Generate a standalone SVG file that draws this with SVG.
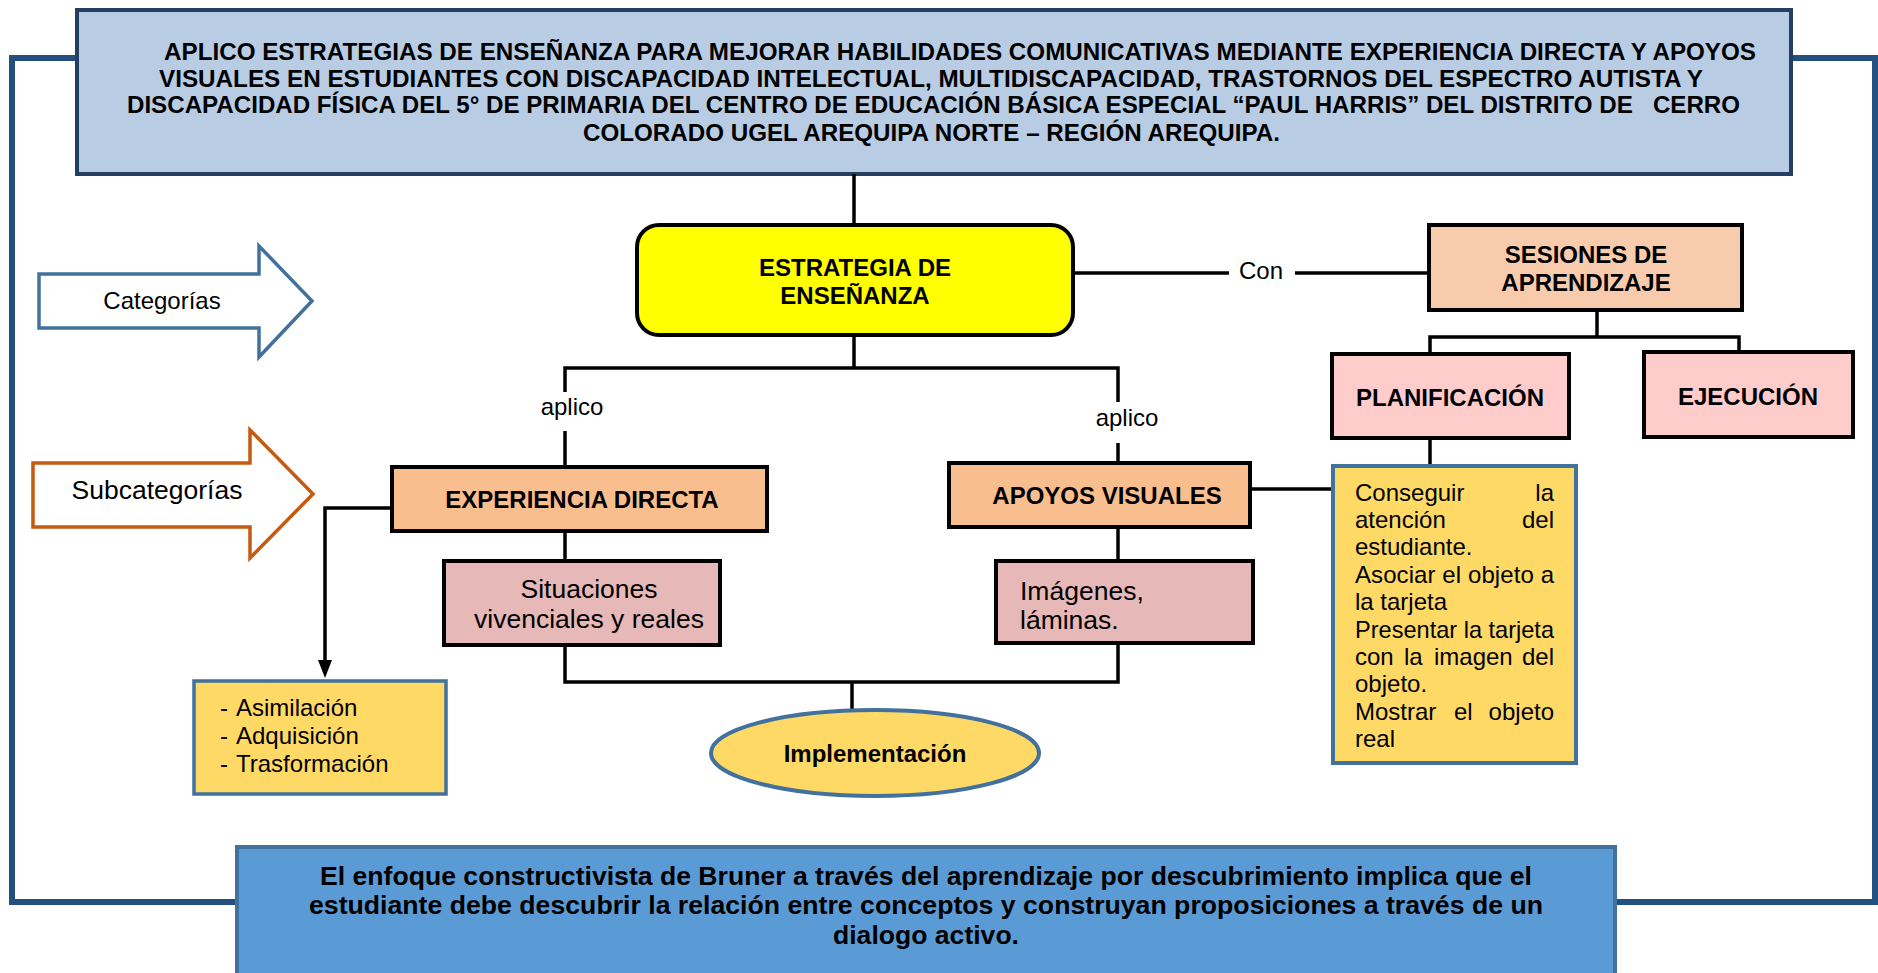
<svg xmlns="http://www.w3.org/2000/svg" width="1878" height="973" viewBox="0 0 1878 973">
<style>
text{font-family:"Liberation Sans",Arial,sans-serif;fill:#000}
.b{font-weight:bold}
.r24{font-size:24px}
.r26{font-size:26.5px}
.c{text-anchor:middle}
.e{text-anchor:end}
.blk{stroke:#000;stroke-width:4}
.ln{stroke:#000;stroke-width:3.5;fill:none}
</style>
<rect id="frame" x="12" y="58" width="1863" height="844" fill="none" stroke="#23507f" stroke-width="6"/>
<g id="title">
<rect x="77" y="10" width="1714" height="164" fill="#b8cce4" stroke="#243f60" stroke-width="4"/>
<text class="b r24" x="164" y="60" textLength="1592" lengthAdjust="spacingAndGlyphs">APLICO ESTRATEGIAS DE ENSEÑANZA PARA MEJORAR HABILIDADES COMUNICATIVAS MEDIANTE EXPERIENCIA DIRECTA Y APOYOS</text>
<text class="b r24" x="159" y="87" textLength="1544" lengthAdjust="spacingAndGlyphs">VISUALES EN ESTUDIANTES CON DISCAPACIDAD INTELECTUAL, MULTIDISCAPACIDAD, TRASTORNOS DEL ESPECTRO AUTISTA Y</text>
<text class="b r24" x="127" y="113" textLength="1613" lengthAdjust="spacingAndGlyphs" xml:space="preserve">DISCAPACIDAD FÍSICA DEL 5° DE PRIMARIA DEL CENTRO DE EDUCACIÓN BÁSICA ESPECIAL “PAUL HARRIS” DEL DISTRITO DE   CERRO</text>
<text class="b r24" x="583" y="141" textLength="697" lengthAdjust="spacingAndGlyphs">COLORADO UGEL AREQUIPA NORTE – REGIÓN AREQUIPA.</text>
</g>
<g id="bruner">
<rect x="237" y="847" width="1378" height="140" fill="#5b9bd5" stroke="#41719c" stroke-width="4"/>
<text class="b" font-size="26" x="320" y="885" textLength="1212" lengthAdjust="spacingAndGlyphs">El enfoque constructivista de Bruner a través del aprendizaje por descubrimiento implica que el</text>
<text class="b" font-size="26" x="309" y="914" textLength="1234" lengthAdjust="spacingAndGlyphs">estudiante debe descubrir la relación entre conceptos y construyan proposiciones a través de un</text>
<text class="b" font-size="26" x="833" y="944" textLength="186" lengthAdjust="spacingAndGlyphs">dialogo activo.</text>
</g>
<g id="connectors">
<line class="ln" x1="854" y1="174" x2="854" y2="225"/>
<polyline class="ln" points="1073,273 1229,273"/>
<polyline class="ln" points="1295,273 1429,273"/>
<polyline class="ln" points="854,335 854,368"/>
<polyline class="ln" points="565,392 565,368 1118,368 1118,402"/>
<line class="ln" x1="565" y1="431" x2="565" y2="467"/>
<line class="ln" x1="1118" y1="443" x2="1118" y2="463"/>
<polyline class="ln" points="1597,310 1597,337"/>
<polyline class="ln" points="1430,354 1430,337 1739,337 1739,352"/>
<line class="ln" x1="1430" y1="438" x2="1430" y2="466"/>
<line class="ln" x1="1250" y1="489" x2="1333" y2="489"/>
<line class="ln" x1="565" y1="531" x2="565" y2="561"/>
<line class="ln" x1="1118" y1="527" x2="1118" y2="561"/>
<polyline class="ln" points="565,645 565,682 1118,682 1118,643"/>
<line class="ln" x1="852" y1="682" x2="852" y2="709"/>
<polyline class="ln" points="392,508 325,508 325,662"/>
<path d="M318,660 L332,660 L325,678 z" fill="#000"/>
<text class="r24 c" x="1261" y="279">Con</text>
<text class="r24 c" x="572" y="415">aplico</text>
<text class="r24 c" x="1127" y="426">aplico</text>
</g>
<g id="categorias">
<polygon points="39,274 259,274 259,246 312,301 259,357 259,328 39,328" fill="#fff" stroke="#41719c" stroke-width="3.5"/>
<text class="r24 c" x="162" y="309">Categorías</text>
</g>
<g id="subcategorias">
<polygon points="33,463 250,463 250,430 313,494 250,558 250,527 33,527" fill="#fff" stroke="#c55a11" stroke-width="3.5"/>
<text class="r26 c" x="157" y="499">Subcategorías</text>
</g>
<g id="estrategia">
<rect class="blk" x="637" y="225" width="436" height="110" rx="22" fill="#ffff00"/>
<text class="b r24 c" x="855" y="276">ESTRATEGIA DE</text>
<text class="b r24 c" x="855" y="304">ENSEÑANZA</text>
</g>
<g id="sesiones">
<rect class="blk" x="1429" y="225" width="313" height="85" fill="#f8cbad"/>
<text class="b r24 c" x="1586" y="263">SESIONES DE</text>
<text class="b r24 c" x="1586" y="291">APRENDIZAJE</text>
</g>
<g id="planificacion">
<rect class="blk" x="1332" y="354" width="237" height="84" fill="#ffcccc"/>
<text class="b r24 c" x="1450" y="406">PLANIFICACIÓN</text>
</g>
<g id="ejecucion">
<rect class="blk" x="1644" y="352" width="209" height="85" fill="#ffcccc"/>
<text class="b r24 c" x="1748" y="405">EJECUCIÓN</text>
</g>
<g id="pasos">
<rect x="1333" y="466" width="243" height="297" fill="#ffd966" stroke="#41719c" stroke-width="4"/>
<g class="r24">
<text x="1355" y="501">Conseguir</text><text class="e" x="1554" y="501">la</text>
<text x="1355" y="528">atención</text><text class="e" x="1554" y="528">del</text>
<text x="1355" y="555">estudiante.</text>
<text x="1355" y="583" textLength="199" lengthAdjust="spacing">Asociar el objeto a</text>
<text x="1355" y="610">la tarjeta</text>
<text x="1355" y="638" textLength="199" lengthAdjust="spacingAndGlyphs">Presentar la tarjeta</text>
<text x="1355" y="665">con</text><text x="1404" y="665">la</text><text x="1434" y="665">imagen</text><text class="e" x="1554" y="665">del</text>
<text x="1355" y="692">objeto.</text>
<text x="1355" y="720">Mostrar</text><text x="1454" y="720">el</text><text class="e" x="1554" y="720">objeto</text>
<text x="1355" y="747">real</text>
</g>
</g>
<g id="experiencia">
<rect class="blk" x="392" y="467" width="375" height="64" fill="#f8be8e"/>
<text class="b r24 c" x="582" y="508">EXPERIENCIA DIRECTA</text>
</g>
<g id="apoyos">
<rect class="blk" x="949" y="463" width="301" height="64" fill="#f8be8e"/>
<text class="b r24 c" x="1107" y="504">APOYOS VISUALES</text>
</g>
<g id="situaciones">
<rect class="blk" x="444" y="561" width="276" height="84" fill="#e6b8b7"/>
<text class="r26 c" x="589" y="598">Situaciones</text>
<text class="r26 c" x="589" y="628">vivenciales y reales</text>
</g>
<g id="imagenes">
<rect class="blk" x="996" y="561" width="257" height="82" fill="#e6b8b7"/>
<text class="r26" x="1020" y="600">Imágenes,</text>
<text class="r26" x="1020" y="629">láminas.</text>
</g>
<g id="asimilacion">
<rect x="194" y="681" width="252" height="113" fill="#ffd966" stroke="#41719c" stroke-width="3.5"/>
<g class="r24">
<text x="220" y="716">-</text><text x="236" y="716">Asimilación</text>
<text x="220" y="744">-</text><text x="236" y="744">Adquisición</text>
<text x="220" y="772">-</text><text x="236" y="772">Trasformación</text>
</g>
</g>
<g id="implementacion">
<ellipse cx="875" cy="753" rx="164" ry="43" fill="#ffd966" stroke="#41719c" stroke-width="4"/>
<text class="b r24 c" x="875" y="762">Implementación</text>
</g>
</svg>
